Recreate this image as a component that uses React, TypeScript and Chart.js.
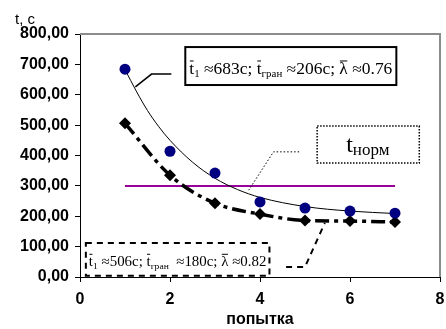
import React, { useEffect, useRef } from "react";
import { Chart, registerables } from "chart.js";
Chart.register(...registerables);

const attempts = [1, 2, 3, 4, 5, 6, 7];
const measuredA = [684, 414, 342, 247, 227, 217, 210];
const measuredB = [506, 335, 243, 207, 186, 184, 181];
const fitAX = [1, 1.25, 1.5, 1.75, 2, 2.5, 3, 3.5, 4, 5, 6, 7];
const fitAY = [683, 612, 548, 495, 450, 378, 325, 288, 262, 232, 217, 209];
const normX = [1, 7];
const normY = [300, 300];
const yTicks = [0, 100, 200, 300, 400, 500, 600, 700, 800];
const xTicks = [0, 2, 4, 6, 8];
const yLabel = "t, с";
const xLabel = "попытка";

type Seg = { t: string; size: number; dy?: number; over?: boolean };

function drawRich(ctx: CanvasRenderingContext2D, x: number, y: number, segs: Seg[], family: string, scaleTo?: number) {
  let total = 0;
  for (const s of segs) {
    ctx.font = `${s.size}px ${family}`;
    total += ctx.measureText(s.t).width;
  }
  const k = scaleTo ? scaleTo / total : 1;
  ctx.save();
  ctx.translate(x, y);
  ctx.scale(k, 1);
  let cx = 0;
  ctx.fillStyle = "#000";
  ctx.textBaseline = "alphabetic";
  ctx.textAlign = "left";
  for (const s of segs) {
    ctx.font = `${s.size}px ${family}`;
    const w = ctx.measureText(s.t).width;
    ctx.fillText(s.t, cx, s.dy || 0);
    if (s.over) {
      ctx.strokeStyle = "#000";
      ctx.lineWidth = 1;
      ctx.beginPath();
      const oy = (s.dy || 0) - s.size * 0.82;
      ctx.moveTo(cx + 0.5, oy);
      ctx.lineTo(cx + w - 0.5, oy);
      ctx.stroke();
    }
    cx += w;
  }
  ctx.restore();
}

const annot = {
  id: "annot",
  afterDraw(chart: any) {
    const ctx: CanvasRenderingContext2D = chart.ctx;
    const xs = chart.scales.x;
    const ys = chart.scales.y;
    const X = (v: number) => xs.getPixelForValue(v);
    const Y = (v: number) => ys.getPixelForValue(v);
    const ca = chart.chartArea;
    ctx.save();
    // frame top/right
    ctx.strokeStyle = "#8c8c8c";
    ctx.lineWidth = 2;
    ctx.beginPath();
    ctx.moveTo(ca.left, ca.top);
    ctx.lineTo(ca.right, ca.top);
    ctx.lineTo(ca.right, ca.bottom);
    ctx.stroke();

    const poly = (pts: number[][], dash: number[], w: number) => {
      ctx.setLineDash(dash);
      ctx.lineWidth = w;
      ctx.strokeStyle = "#000";
      ctx.beginPath();
      pts.forEach((p, i) => (i ? ctx.lineTo(X(p[0]), Y(p[1])) : ctx.moveTo(X(p[0]), Y(p[1]))));
      ctx.stroke();
    };
    const box = (x1: number, y1: number, x2: number, y2: number, dash: number[], w: number) => {
      ctx.fillStyle = "#fff";
      ctx.fillRect(X(x1), Y(y1), X(x2) - X(x1), Y(y2) - Y(y1));
      ctx.setLineDash(dash);
      ctx.lineWidth = w;
      ctx.strokeStyle = "#000";
      ctx.strokeRect(X(x1), Y(y1), X(x2) - X(x1), Y(y2) - Y(y1));
    };
    // leader 1 & box 1
    poly([[2.03, 668], [1.59, 668], [1.23, 626]], [], 1.5);
    box(2.34, 757, 7.03, 632, [], 2);
    ctx.setLineDash([]);
    const serif = '"Liberation Serif", "Times New Roman", serif';
    drawRich(ctx, X(2.34) + 4, Y(668), [
      { t: "t", size: 16, over: true },
      { t: "1", size: 10, dy: 3 },
      { t: " ≈683с; ", size: 16 },
      { t: "t", size: 16, over: true },
      { t: "гран", size: 10, dy: 3 },
      { t: " ≈206с; ", size: 16 },
      { t: "λ", size: 16, over: true },
      { t: " ≈0.76", size: 16 },
    ], serif, X(7.03) - X(2.34) - 8);

    // leader 2 & box 2
    poly([[4.87, 412], [4.30, 412], [3.75, 286]], [1.5, 2], 1);
    box(5.27, 497, 7.54, 375, [1.5, 1.5], 1.5);
    ctx.setLineDash([]);
    drawRich(ctx, X(5.27) + 29, Y(410), [
      { t: "t", size: 24 },
      { t: "норм", size: 17, dy: 3 },
    ], serif);

    // leader 3 & box 3
    poly([[4.58, 33], [5.0, 33], [5.44, 178]], [6, 5], 2);
    box(0.13, 112, 4.21, 4, [6, 5], 2);
    ctx.setLineDash([]);
    drawRich(ctx, X(0.13) + 3, Y(37), [
      { t: "t", size: 14, over: true },
      { t: "1", size: 9, dy: 3 },
      { t: " ≈506с; ", size: 14 },
      { t: "t", size: 14, over: true },
      { t: "гран", size: 9, dy: 3 },
      { t: "  ≈180с; ", size: 14 },
      { t: "λ", size: 14, over: true },
      { t: " ≈0.82", size: 14 },
    ], serif, X(4.21) - X(0.13) - 6);

    // y label
    ctx.fillStyle = "#000";
    ctx.font = '15px "Liberation Sans", Arial, sans-serif';
    ctx.textAlign = "left";
    ctx.textBaseline = "alphabetic";
    ctx.fillText(yLabel, 15, 24);
    ctx.restore();
  },
};

export default function App() {
  const ref = useRef<HTMLCanvasElement>(null);
  useEffect(() => {
    const font = { family: '"Liberation Sans", Arial, sans-serif', size: 16, weight: "bold" as const };
    const chart = new Chart(ref.current!, {
      type: "scatter",
      data: {
        datasets: [
          {
            data: attempts.map((x, i) => ({ x, y: measuredA[i] })),
            backgroundColor: "#000080",
            borderColor: "#000080",
            pointRadius: 5.5,
            pointBorderWidth: 0,
            showLine: false,
            order: 0,
          },
          {
            data: fitAX.map((x, i) => ({ x, y: fitAY[i] })),
            borderColor: "#000",
            borderWidth: 1,
            pointRadius: 0,
            showLine: true,
            cubicInterpolationMode: "monotone",
            order: 3,
          },
          {
            data: attempts.map((x, i) => ({ x, y: measuredB[i] })),
            backgroundColor: "#000",
            borderColor: "#000",
            pointStyle: "rectRot",
            pointRadius: 6,
            pointBorderWidth: 0,
            showLine: true,
            borderWidth: 3.5,
            borderDash: [14, 5, 4, 5],
            cubicInterpolationMode: "monotone",
            order: 1,
          },
          {
            data: normX.map((x, i) => ({ x, y: normY[i] })),
            borderColor: "#990099",
            borderWidth: 2,
            pointRadius: 0,
            showLine: true,
            order: 4,
          },
        ] as any,
      },
      plugins: [annot],
      options: {
        animation: false,
        responsive: false,
        layout: { padding: { left: 0, top: 34, right: 3, bottom: 0 } },
        plugins: { legend: { display: false }, tooltip: { enabled: false } },
        scales: {
          x: {
            type: "linear",
            min: 0,
            max: 8,
            afterBuildTicks: (s: any) => { s.ticks = xTicks.map((v) => ({ value: v })); },
            afterFit: (s: any) => { s.height = 52; s.paddingRight = 0; s.paddingLeft = 0; },
            ticks: { color: "#000", font, padding: 8, callback: (v: any) => String(v) },
            grid: { drawOnChartArea: false, color: "#000", tickLength: 5 },
            border: { color: "#000", width: 1 },
            title: { display: true, text: xLabel, color: "#000", font, padding: { top: 2, bottom: 0 } },
          },
          y: {
            min: 0,
            max: 800,
            afterBuildTicks: (s: any) => { s.ticks = yTicks.map((v) => ({ value: v })); },
            afterFit: (s: any) => { s.width = 80; s.paddingTop = 0; s.paddingBottom = 0; },
            ticks: { color: "#000", font, padding: 6, callback: (v: any) => Number(v).toFixed(2).replace(".", ",") },
            grid: { drawOnChartArea: false, color: "#000", tickLength: 5 },
            border: { color: "#000", width: 1 },
          },
        },
      },
    });
    return () => chart.destroy();
  }, []);
  return (
    <div style={{ position: "fixed", left: 0, top: 0, width: 446, height: 329, background: "#fff" }}>
      <canvas ref={ref} width={446} height={329} />
    </div>
  );
}
